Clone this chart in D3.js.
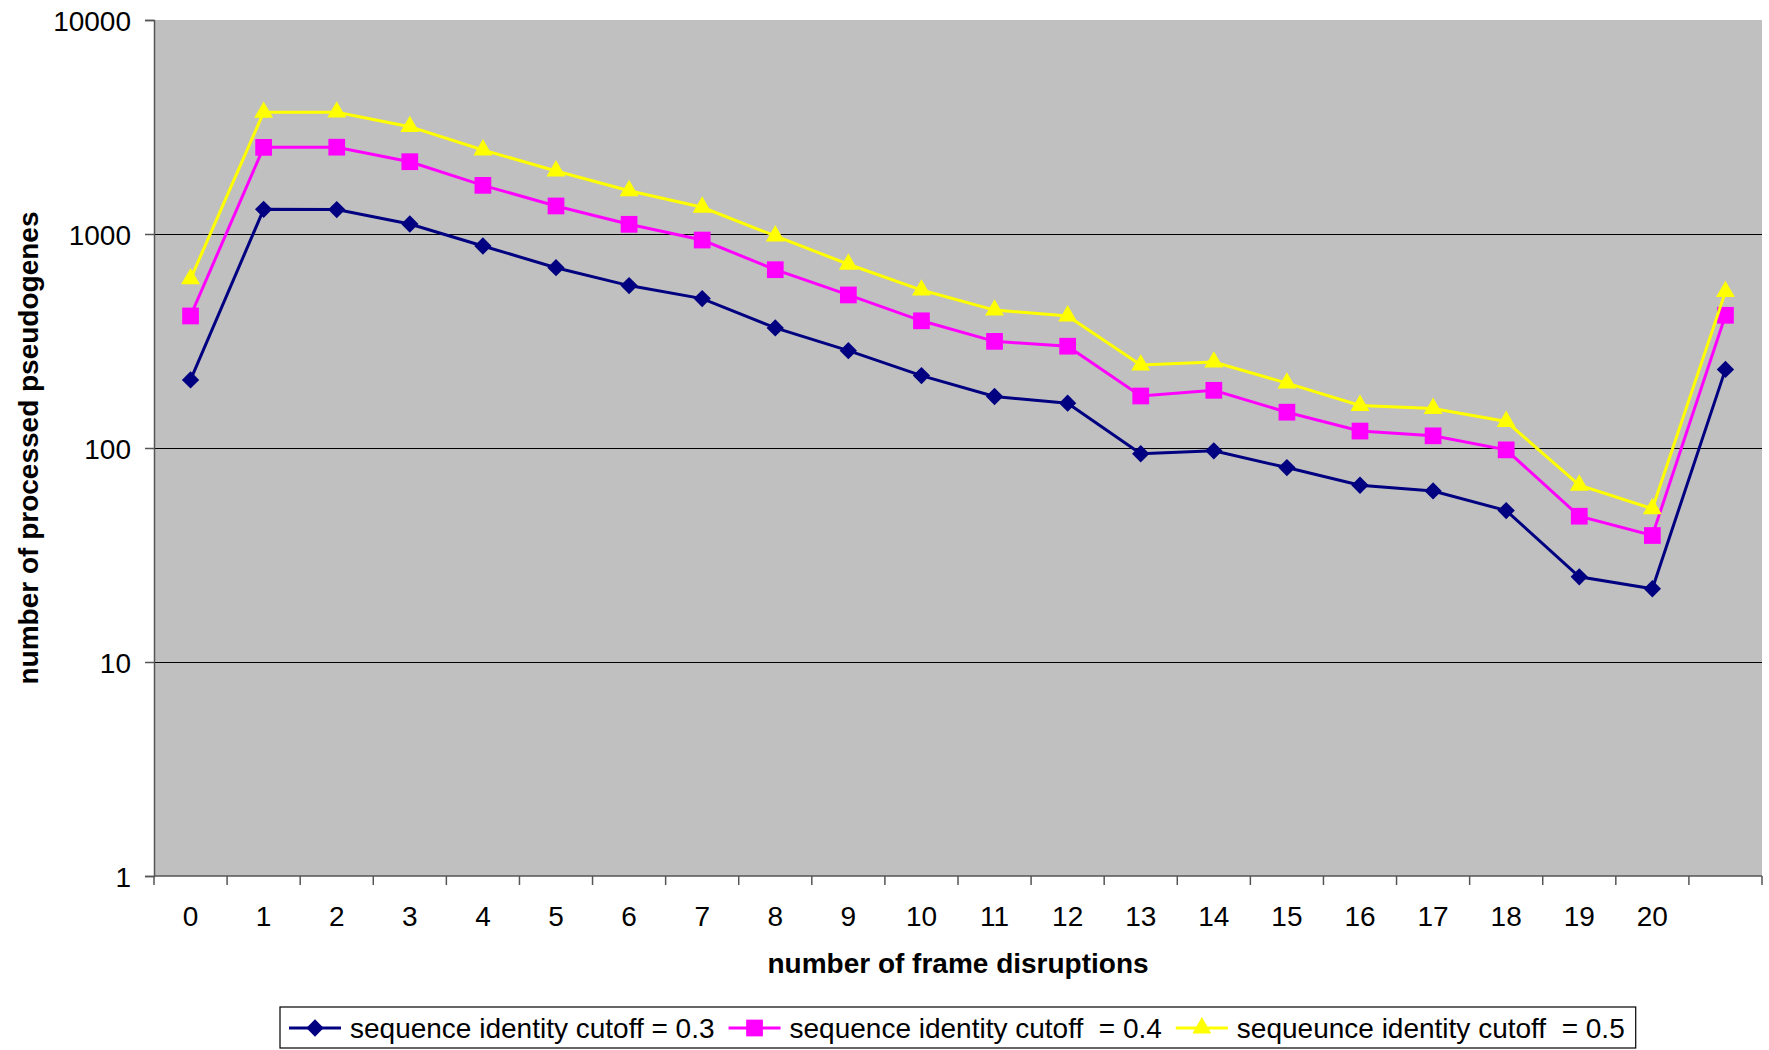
<!DOCTYPE html>
<html>
<head>
<meta charset="utf-8">
<script src="https://cdn.jsdelivr.net/npm/d3@7"></script>
<style>
  body { margin: 0; background: #fff; }
  text { font-family: "Liberation Sans", Arial, sans-serif; fill: #000; }
</style>
</head>
<body>
<div id="chart"></div>
<script>

// values (log scale)
var categories = ["0","1","2","3","4","5","6","7","8","9","10",
                  "11","12","13","14","15","16","17","18","19","20",""];

var cutoff03 = [208, 1304, 1300, 1114, 879, 696, 574, 499, 364, 285, 218,
                174, 162, 94, 97, 81, 67, 63, 51, 25, 22, 233];
var cutoff04 = [414, 2540, 2545, 2177, 1688, 1352, 1110, 937, 681, 519, 393,
                315, 299, 175, 186, 147, 120, 114, 98, 48, 39, 417];
var cutoff05 = [617, 3703, 3710, 3174, 2470, 1970, 1593, 1333, 979, 722, 547,
                441, 414, 244, 252, 201, 158, 153, 133, 67, 52, 538];

var seriesNames = ["sequence identity cutoff = 0.3",
                   "sequence identity cutoff  = 0.4",
                   "sequeunce identity cutoff  = 0.5"];

var yTicks = [1, 10, 100, 1000, 10000];

var series = [
    {name: seriesNames[0], values: cutoff03, color: "#000080", shape: "diamond"},
    {name: seriesNames[1], values: cutoff04, color: "#FF00FF", shape: "square"},
    {name: seriesNames[2], values: cutoff05, color: "#FFFF00", shape: "triangle"}
];

var width = 1769, height = 1050;
var plot = {left: 154, top: 20, right: 1762, bot: 876};
var fsize = 28;

var svg = d3.select("#chart").append("svg")
    .attr("width", width)
    .attr("height", height);

var x = d3.scaleBand()
    .domain(categories)
    .range([plot.left, plot.right])
    .padding(0);

var y = d3.scaleLog()
    .domain([1, 10000])
    .range([plot.bot, plot.top]);

// plot background
svg.append("rect")
    .attr("x", plot.left)
    .attr("y", plot.top)
    .attr("width", plot.right - plot.left)
    .attr("height", plot.bot - plot.top)
    .attr("fill", "#C0C0C0");

// gridlines
svg.append("g")
    .selectAll("line")
    .data(yTicks.filter(function(d) { return d > 1 && d < 10000; }))
    .enter().append("line")
    .attr("x1", plot.left)
    .attr("x2", plot.right)
    .attr("y1", function(d) { return y(d) + 0.5; })
    .attr("y2", function(d) { return y(d) + 0.5; })
    .attr("stroke", "#000")
    .attr("stroke-width", 1);

// y axis
var yAxis = svg.append("g")
    .attr("transform", "translate(" + plot.left + ",0)")
    .call(d3.axisLeft(y).tickValues(yTicks).tickFormat(d3.format("d"))
          .tickSize(9).tickPadding(14));
yAxis.select(".domain").attr("stroke", "#555").attr("stroke-width", 1.5);
yAxis.selectAll(".tick line").attr("stroke", "#555").attr("stroke-width", 1.5);
yAxis.selectAll("text")
    .attr("font-size", fsize)
    .attr("font-family", "'Liberation Sans', Arial, sans-serif")
    .attr("dy", "0.36em");

// x axis : labels centred in bands, ticks on band boundaries
var xAxis = svg.append("g")
    .attr("transform", "translate(0," + plot.bot + ")")
    .call(d3.axisBottom(x).tickSize(0).tickPadding(30));
xAxis.select(".domain").remove();
xAxis.selectAll("text")
    .attr("font-size", fsize)
    .attr("font-family", "'Liberation Sans', Arial, sans-serif")
    .attr("dy", "0.71em");

var bounds = categories.map(function(c) { return x(c); }).concat([plot.right]);
svg.append("g")
    .selectAll("line")
    .data(bounds)
    .enter().append("line")
    .attr("x1", function(d) { return d; })
    .attr("x2", function(d) { return d; })
    .attr("y1", plot.bot)
    .attr("y2", plot.bot + 9)
    .attr("stroke", "#555")
    .attr("stroke-width", 1.5);

svg.append("line")
    .attr("x1", plot.left)
    .attr("x2", plot.right)
    .attr("y1", plot.bot)
    .attr("y2", plot.bot)
    .attr("stroke", "#555")
    .attr("stroke-width", 1.5);

// axis titles
svg.append("text")
    .attr("x", (plot.left + plot.right) / 2)
    .attr("y", 973)
    .attr("text-anchor", "middle")
    .attr("font-size", fsize)
    .attr("font-weight", "bold")
    .text("number of frame disruptions");

svg.append("text")
    .attr("transform", "translate(38," + (plot.top + plot.bot) / 2 + ") rotate(-90)")
    .attr("text-anchor", "middle")
    .attr("font-size", fsize)
    .attr("font-weight", "bold")
    .text("number of processed pseudogenes");

// marker shapes
function markerPath(shape) {
    if (shape == "diamond")
        return d3.symbol().type(d3.symbolSquare).size(150)();
    if (shape == "square")
        return d3.symbol().type(d3.symbolSquare).size(280)();
    return d3.symbol().type(d3.symbolTriangle).size(155)();
}
function markerRot(shape) {
    return shape == "diamond" ? " rotate(45)" : "";
}

var line = d3.line()
    .x(function(d, i) { return x(categories[i]) + x.bandwidth() / 2; })
    .y(function(d) { return y(d); });

series.forEach(function(s) {
    var g = svg.append("g");
    g.append("path")
        .attr("d", line(s.values))
        .attr("fill", "none")
        .attr("stroke", s.color)
        .attr("stroke-width", 3);
    g.selectAll("path.mk")
        .data(s.values)
        .enter().append("path")
        .attr("class", "mk")
        .attr("d", markerPath(s.shape))
        .attr("transform", function(d, i) {
            return "translate(" + (x(categories[i]) + x.bandwidth() / 2) + "," + y(d) + ")"
                + markerRot(s.shape);
        })
        .attr("fill", s.color);
});

// legend
var leg = svg.append("g");
var legBox = leg.append("rect")
    .attr("y", 1007)
    .attr("height", 41)
    .attr("fill", "#fff")
    .attr("stroke", "#000")
    .attr("stroke-width", 1.2);

var cx = 289;
series.forEach(function(s) {
    leg.append("line")
        .attr("x1", cx)
        .attr("x2", cx + 52)
        .attr("y1", 1028)
        .attr("y2", 1028)
        .attr("stroke", s.color)
        .attr("stroke-width", 3);
    leg.append("path")
        .attr("d", markerPath(s.shape))
        .attr("transform", "translate(" + (cx + 26) + ",1028)" + markerRot(s.shape))
        .attr("fill", s.color);
    var t = leg.append("text")
        .attr("x", cx + 61)
        .attr("y", 1038)
        .attr("font-size", fsize)
        .style("white-space", "pre")
        .text(s.name);
    cx = cx + 61 + t.node().getComputedTextLength() + 14;
});
legBox.attr("x", 280).attr("width", cx - 280 - 3);

</script>
</body>
</html>
